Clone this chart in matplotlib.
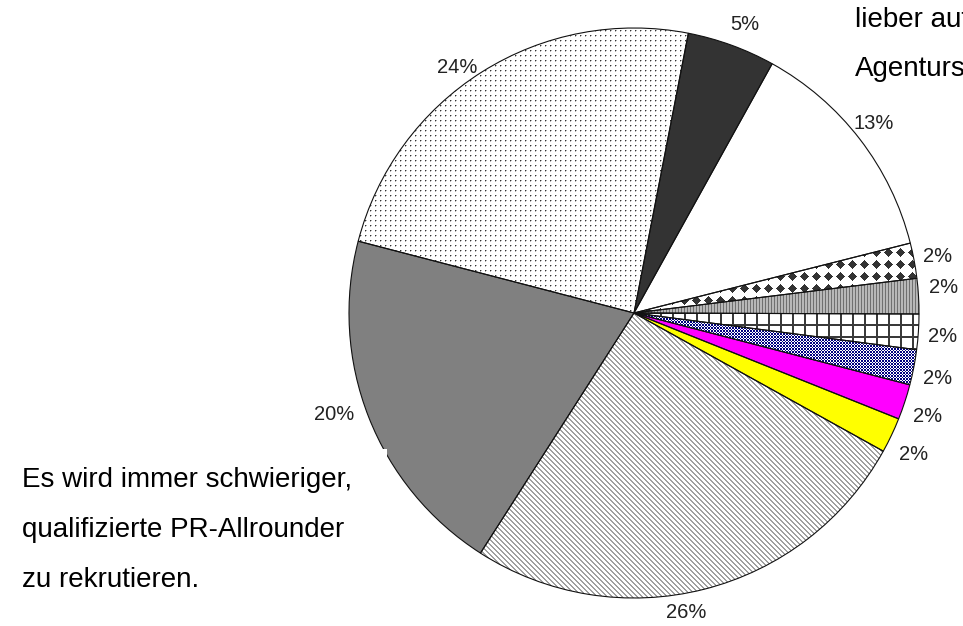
import numpy as np
import matplotlib
matplotlib.use("Agg")
import matplotlib.pyplot as plt
from matplotlib.patches import Rectangle

plt.rcParams['font.family'] = ['Liberation Sans', 'DejaVu Sans']

# ---- data ----
shares = [5, 13, 2, 2, 2, 2, 2, 2, 26, 20, 24]
fills = ['#333333', '#ffffff', 'diamond', 'vstripe', 'grid', 'bluecheck',
         '#ff00ff', '#ffff00', 'diag', '#808080', 'dots']
label_texts = [f"{v}%" for v in shares]
left_lines = ["Es wird immer schwieriger,", "qualifizierte PR-Allrounder",
              "zu rekrutieren."]
top_lines = ["lieber auf", "Agentursupport"]

# small pixel nudges of the percentage labels (style only)
label_nudge = [(5, -2), (-5, 1), (0, 0), (1, 7), (0, -3), (0, -6), (0, -7),
               (0, -9), (-24, 0), (-12, 11), (-12, -16)]

W, H = 963, 626
fig = plt.figure(figsize=(W / 100, H / 100), dpi=100)
ax = fig.add_axes([0, 0, 1, 1])

cx, cy, R = 634, H - 313, 285

# ---- pattern textures ----
rows, cols = np.mgrid[0:H, 0:W]


def rgb(hexc):
    return np.array(matplotlib.colors.to_rgb(hexc))


def make(layers, bg):
    img = np.empty((H, W, 3))
    img[:] = rgb(bg)
    for mask, fg in layers:
        img[mask] = rgb(fg)
    return img


sx = np.floor(cols / 1.5).astype(int)
sy = np.floor(rows / 1.5).astype(int)
dx = ((cols + 6) % 12) - 6
dy = ((rows + 6) % 12) - 6
textures = {
    'dots': make([((cols % 5 == 1) & (rows % 5 == 0), '#b0b0b0'),
                  ((cols % 5 == 0) & (rows % 5 == 1), '#b0b0b0'),
                  ((cols % 5 == 0) & (rows % 5 == 0), '#333333')], '#ffffff'),
    'diag': make([(((cols - rows) % 5) < 2, '#a0a0a0')], '#ffffff'),
    'diamond': make([((np.abs(dx) + np.abs(dy)) <= 4.5, '#333333')], '#ffffff'),
    'vstripe': make([(cols % 3 == 0, '#707070')], '#b8b8b8'),
    'grid': make([((cols % 12 < 2) | (rows % 12 < 2), '#3a3a3a')], '#ffffff'),
    'bluecheck': make([(((sx + sy) % 2) == 0, '#000080')], '#ffffff'),
}

face = [c if c.startswith('#') else '#ffffff' for c in fills]
wedges, _ = ax.pie(shares, colors=face, startangle=79, counterclock=False,
                   center=(cx, cy), radius=R,
                   wedgeprops=dict(linewidth=0, zorder=1))

for w, f in zip(wedges, fills):
    if f in textures:
        im = ax.imshow(textures[f], extent=(0, W, 0, H), origin='upper',
                       interpolation='nearest', zorder=2)
        im.set_clip_path(w)

ax.pie(shares, colors=face, startangle=79, counterclock=False,
       center=(cx, cy), radius=R,
       wedgeprops=dict(fill=False, edgecolor='#111111', linewidth=0.8, zorder=4))

# ---- percentage labels ----
for w, t, (nx, ny) in zip(wedges, label_texts, label_nudge):
    ang = np.deg2rad((w.theta1 + w.theta2) / 2)
    ax.text(cx + 1.085 * R * np.cos(ang) + nx, cy + 1.085 * R * np.sin(ang) + ny,
            t, ha='center', va='center', fontsize=14.5, color='#222222', zorder=8)

# ---- text boxes ----
ax.add_patch(Rectangle((0, 0), 387, H - 449, facecolor='white',
                       edgecolor='none', zorder=6))
for i, line in enumerate(left_lines):
    ax.text(22, H - 487 - 50 * i, line, ha='left', va='baseline', fontsize=20,
            color='black', zorder=7)
for i, line in enumerate(top_lines):
    ax.text(855, H - 27 - 49 * i, line, ha='left', va='baseline', fontsize=20,
            color='black', zorder=7)

ax.set_xlim(0, W)
ax.set_ylim(0, H)
ax.set_aspect('auto')
ax.axis('off')
fig.savefig('out.png', dpi=100, facecolor='white')
